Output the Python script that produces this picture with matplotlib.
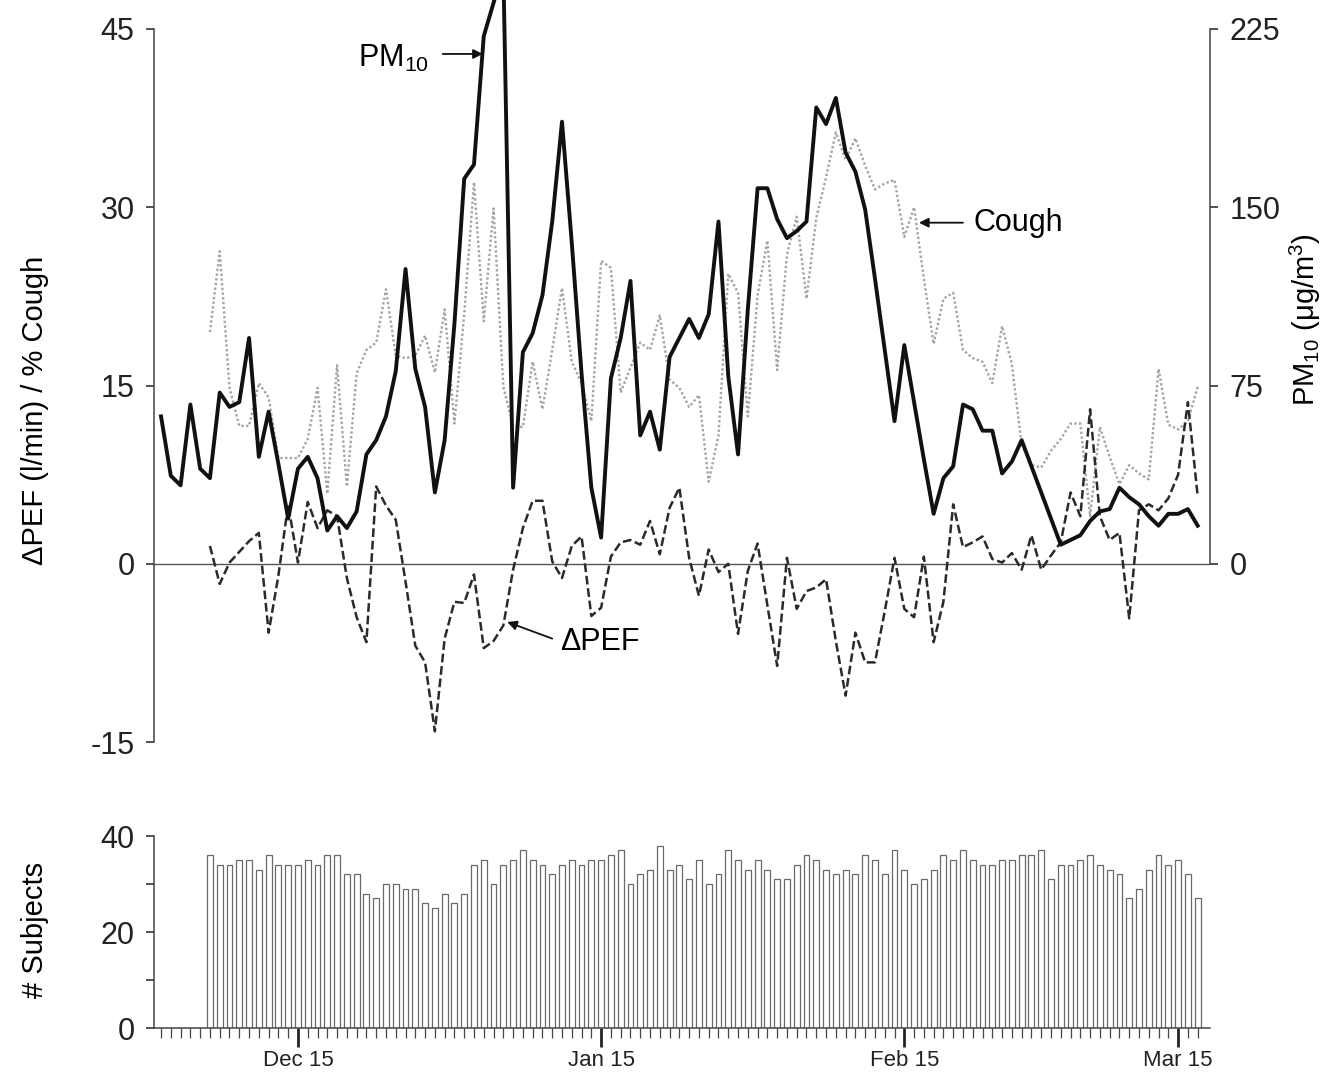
import numpy as np
import matplotlib
matplotlib.use('Agg')
import matplotlib.pyplot as plt

plt.rcParams['font.family'] = ['Liberation Sans', 'DejaVu Sans']
plt.rcParams['mathtext.fontset'] = 'custom'
plt.rcParams['mathtext.rm'] = 'Liberation Sans'
plt.rcParams['mathtext.it'] = 'Liberation Sans:italic'
plt.rcParams['axes.unicode_minus'] = False

# day 0 = Dec 1, last day = Mar 17
n_days = 107
first_obs = 5  # diary/PEF data start on Dec 6

date_ticks = [14, 45, 76, 104]
date_labels = ['Dec 15', 'Jan 15', 'Feb 15', 'Mar 15']

# daily PM10 (ug/m3), Dec 1 .. Mar 17
pm10 = [62, 37, 33, 67, 40, 36, 72, 66, 68, 95,
        45, 64, 42, 19, 40, 45, 36, 14, 20, 15,
        22, 46, 52, 62, 81, 124, 82, 66, 30, 52,
        101, 162, 168, 222, 236, 250, 32, 89, 97, 113,
        144, 186, 135, 80, 32, 11, 78, 95, 119, 54,
        64, 48, 87, 95, 103, 95, 105, 144, 79, 46,
        107, 158, 158, 145, 137, 140, 144, 192, 185, 196,
        173, 165, 149, 120, 90, 60, 92, 68, 44, 21,
        36, 41, 67, 65, 56, 56, 38, 43, 52, 41,
        30, 19, 8, 10, 12, 18, 22, 23, 32, 28,
        25, 20, 16, 21, 21, 23, 16]

# % of subjects reporting cough, Dec 6 .. Mar 17
cough = [19.5, 26.3, 14.8, 11.6, 11.6, 15.2, 14.0, 8.9, 8.9, 8.9,
         10.5, 14.8, 5.9, 16.7, 6.5, 16.0, 18.0, 18.6, 23.1, 17.5,
         17.3, 17.5, 19.2, 16.1, 21.4, 11.8, 21.0, 32.1, 20.4, 29.9,
         14.9, 11.6, 11.5, 17.0, 13.0, 18.0, 23.2, 17.0, 15.2, 12.0,
         25.5, 24.9, 14.4, 16.5, 18.6, 18.0, 20.9, 15.5, 14.8, 13.2,
         14.2, 6.9, 10.8, 24.4, 22.8, 12.4, 22.6, 27.2, 16.3, 26.0,
         29.2, 22.3, 29.1, 32.5, 36.3, 34.0, 35.8, 33.5, 31.5, 32.0,
         32.3, 27.5, 30.0, 24.0, 18.5, 22.3, 22.8, 18.0, 17.3, 17.0,
         15.2, 20.0, 16.8, 10.0, 8.3, 8.1, 9.5, 10.5, 11.8, 11.8,
         4.0, 11.5, 9.0, 6.7, 8.3, 7.6, 7.1, 16.4, 11.7, 11.3,
         12.0, 14.9]

# mean deviation of PEF (l/min), Dec 6 .. Mar 17
dpef = [1.5, -1.7, 0.1, 1.0, 1.9, 2.6, -5.8, -1.0, 5.0, 0.1,
        5.2, 3.0, 4.5, 4.0, -1.2, -4.5, -6.6, 6.5, 4.9, 3.7,
        -1.5, -6.9, -8.3, -14.1, -6.3, -3.2, -3.3, -0.9, -7.1, -6.5,
        -5.2, -0.5, 3.0, 5.3, 5.3, 0.2, -1.2, 1.5, 2.3, -4.4,
        -3.7, 0.6, 1.8, 2.0, 1.6, 3.6, 0.8, 4.7, 6.4, 0.5,
        -2.7, 1.2, -0.7, 0.0, -5.9, -0.6, 1.7, -3.5, -8.6, 0.5,
        -3.8, -2.3, -2.0, -1.3, -6.5, -11.1, -5.8, -8.3, -8.3, -4.0,
        0.5, -3.8, -4.5, 0.6, -6.6, -3.2, 5.0, 1.4, 1.8, 2.3,
        0.4, 0.1, 0.9, -0.5, 2.4, -0.5, 0.7, 1.8, 6.0, 4.0,
        13.0, 4.0, 2.0, 2.6, -4.6, 4.5, 5.0, 4.5, 5.5, 7.5,
        13.6, 5.7]

# number of subjects reporting, Dec 6 .. Mar 17
subjects = [36, 34, 34, 35, 35, 33, 36, 34, 34, 34,
            35, 34, 36, 36, 32, 32, 28, 27, 30, 30,
            29, 29, 26, 25, 28, 26, 28, 34, 35, 30,
            34, 35, 37, 35, 34, 32, 34, 35, 34, 35,
            35, 36, 37, 30, 32, 33, 38, 33, 34, 31,
            35, 30, 32, 37, 35, 33, 35, 33, 31, 31,
            34, 36, 35, 33, 32, 33, 32, 36, 35, 32,
            37, 33, 30, 31, 33, 36, 35, 37, 35, 34,
            34, 35, 35, 36, 36, 37, 31, 34, 34, 35,
            36, 34, 33, 32, 27, 29, 33, 36, 34, 35,
            32, 27]

days = np.arange(n_days)
obs_days = days[first_obs:]

W_PX, H_PX = 1327, 1074
fig = plt.figure(figsize=(W_PX / 100, H_PX / 100), dpi=100)

left = 154 / W_PX
width = (1210 - 154) / W_PX
xlim = (-0.72, 107.26)

spine_col = '#444444'
tick_kw = dict(colors='#222222', width=1.1, length=6, pad=8, labelsize=22)

# ---- top panel: PEF / cough (left), PM10 (right)
ax = fig.add_axes([left, 1 - 742 / H_PX, width, (742 - 29) / H_PX])
ax.set_xlim(*xlim)
ax.set_ylim(-15, 45)
for s in ['top', 'right', 'bottom']:
    ax.spines[s].set_visible(False)
ax.spines['left'].set_color(spine_col)
ax.spines['left'].set_linewidth(1.1)
ax.set_yticks([-15, 0, 15, 30, 45])
ax.tick_params(axis='y', **tick_kw)
ax.tick_params(axis='x', bottom=False, labelbottom=False)
ax.axhline(0, color='#555555', lw=1.0, zorder=1)

ax.plot(obs_days, cough, color='#a4a4a4', lw=1.7, ls=(0, (1, 1)), zorder=2)
ax.plot(obs_days, dpef, color='#2a2a2a', lw=1.8, ls=(0, (3.5, 1.5)), zorder=3)

ax2 = ax.twinx()
ax2.set_xlim(*xlim)
ax2.set_ylim(-75, 225)
for s in ['top', 'left', 'bottom']:
    ax2.spines[s].set_visible(False)
ax2.spines['right'].set_bounds(0, 225)
ax2.spines['right'].set_color(spine_col)
ax2.spines['right'].set_linewidth(1.1)
ax2.set_yticks([0, 75, 150, 225])
ax2.tick_params(axis='y', **tick_kw)
ax2.plot(days, pm10, color='#111111', lw=2.8, clip_on=False, zorder=4)

# annotations
arrow = dict(arrowstyle='-|>', color='#111111', lw=1.3, mutation_scale=14,
             shrinkA=0, shrinkB=0)
ax.text(20.1, 41.8, 'PM$_{10}$', fontsize=22, va='baseline', ha='left')
ax.annotate('', xy=(32.9, 42.9), xytext=(28.8, 42.9), arrowprops=arrow)
ax.text(83.1, 28.0, 'Cough', fontsize=22, va='baseline', ha='left')
ax.annotate('', xy=(77.5, 28.7), xytext=(82.0, 28.7), arrowprops=arrow)
ax.text(40.8, -7.3, 'ΔPEF', fontsize=22, va='baseline', ha='left')
ax.annotate('', xy=(35.4, -4.9), xytext=(40.0, -6.3), arrowprops=arrow)

# ---- bottom panel: number of subjects
axb = fig.add_axes([left, 1 - 1028 / H_PX, width, (1028 - 836) / H_PX])
axb.bar(obs_days, subjects, width=0.6, facecolor='white',
        edgecolor='#6a6a6a', linewidth=0.9)
axb.set_xlim(*xlim)
axb.set_ylim(0, 40)
for s in ['top', 'right']:
    axb.spines[s].set_visible(False)
for s in ['left', 'bottom']:
    axb.spines[s].set_color(spine_col)
    axb.spines[s].set_linewidth(1.1)
axb.spines['left'].set_bounds(0, 40)
axb.set_yticks([0, 20, 40])
axb.set_yticks([10, 30], minor=True)
axb.tick_params(axis='y', which='major', **tick_kw)
axb.tick_params(axis='y', which='minor', colors='#222222', width=1.1, length=6)
axb.set_xticks(date_ticks)
axb.set_xticklabels(date_labels)
axb.set_xticks(days, minor=True)
axb.tick_params(axis='x', which='major', length=14, width=2.0, pad=2,
                labelsize=16, colors='#222222')
axb.tick_params(axis='x', which='minor', length=7, width=0.9, colors='#444444')

# axis titles
fig.text(35 / W_PX, 1 - 410 / H_PX, 'ΔPEF (l/min) / % Cough', rotation=90,
         ha='center', va='center', fontsize=21)
fig.text(1305 / W_PX, 1 - 320 / H_PX, 'PM$_{10}$ (μg/m$^3$)', rotation=90,
         ha='center', va='center', fontsize=21)
fig.text(35 / W_PX, 1 - 930 / H_PX, '# Subjects', rotation=90,
         ha='center', va='center', fontsize=21)

fig.savefig('out.png', dpi=100, facecolor='white')
